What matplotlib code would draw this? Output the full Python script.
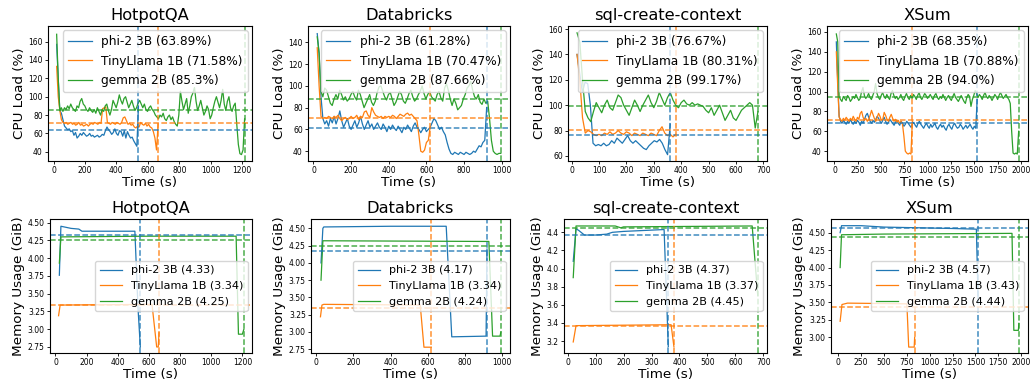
import numpy as np
import matplotlib
matplotlib.use('Agg')
import matplotlib.pyplot as plt

W, H = 1031, 381

models = ['phi-2 3B', 'TinyLlama 1B', 'gemma 2B']
colors = ['#1f77b4', '#ff7f0e', '#2ca02c']
datasets = ['HotpotQA', 'Databricks', 'sql-create-context', 'XSum']

# ---------------- CPU load (%), sampled evenly between start and end time ----------------
hotpot_cpu_span = [(20, 540), (20, 665), (20, 1215)]
hotpot_cpu_phi = [157, 120, 85, 82, 75, 68, 66, 64, 65, 62, 63, 58, 61, 55, 57, 60, 58, 61, 59, 57,
                  58, 60, 57, 58, 56, 57, 58, 56, 57, 59, 58, 63, 67, 64, 62, 59, 61, 65, 60, 58,
                  63, 62, 57, 63, 55, 62, 58, 55, 56, 52, 49, 46, 90]
hotpot_cpu_tiny = [133, 100, 85, 75, 72, 71, 72, 70, 71, 72, 70, 71, 69, 70, 72, 69, 70, 68, 69, 70,
                   68, 70, 71, 70, 72, 71, 70, 72, 71, 87, 88, 89, 72, 71, 70, 72, 71, 70, 72, 71,
                   70, 72, 77, 78, 74, 70, 71, 69, 70, 67, 66, 68, 67, 72, 70, 69, 71, 68, 70, 67,
                   66, 62, 55, 42, 70]
hotpot_cpu_gemma = [168, 120, 85, 88, 84, 88, 86, 90, 87, 92, 88, 86, 84, 90, 88, 95, 98, 92, 90, 86,
                    84, 88, 85, 83, 86, 82, 88, 84, 80, 86, 84, 90, 92, 85, 80, 86, 96, 92, 88, 94,
                    102, 96, 92, 98, 100, 94, 88, 92, 96, 90, 85, 88, 93, 96, 92, 88, 92, 86, 84, 88,
                    90, 86, 84, 80, 78, 76, 80, 78, 82, 76, 74, 78, 80, 75, 78, 73, 70, 68, 80, 106,
                    95, 86, 92, 98, 82, 90, 100, 104, 110, 95, 85, 90, 96, 88, 80, 84, 90, 86, 76, 80,
                    88, 95, 100, 94, 88, 96, 108, 92, 85, 95, 100, 88, 84, 90, 93, 70, 48, 38, 37, 42, 76]

databricks_cpu_span = [(20, 920), (20, 620), (20, 995)]
databricks_cpu_phi = [148, 130, 90, 70, 65, 68, 63, 70, 66, 72, 65, 70, 77, 68, 62, 66, 70, 63, 60, 64,
                      68, 62, 66, 72, 65, 60, 64, 68, 62, 65, 60, 63, 66, 62, 60, 65, 62, 58, 63, 60,
                      64, 61, 59, 63, 60, 57, 62, 60, 64, 61, 58, 63, 66, 62, 60, 57, 60, 62, 58, 60,
                      62, 66, 70, 68, 64, 60, 62, 58, 55, 48, 42, 38, 37, 39, 38, 37, 39, 38, 37, 39,
                      38, 37, 38, 40, 39, 42, 45, 44, 48, 50, 80]
databricks_cpu_tiny = [135, 100, 72, 70, 71, 70, 72, 71, 70, 72, 71, 73, 70, 68, 70, 71, 69, 70, 72, 70,
                       71, 73, 69, 72, 71, 76, 77, 73, 71, 80, 76, 73, 72, 71, 72, 70, 72, 71, 72, 71,
                       73, 72, 70, 72, 74, 73, 72, 74, 75, 73, 74, 72, 70, 68, 55, 40, 39, 41, 48, 50, 62]
databricks_cpu_gemma = [145, 130, 95, 90, 98, 96, 90, 84, 82, 88, 92, 88, 96, 92, 87, 90, 86, 88, 92, 95,
                        90, 87, 96, 92, 86, 80, 84, 88, 92, 85, 82, 86, 94, 99, 100, 95, 90, 87, 92, 94,
                        88, 82, 85, 90, 95, 92, 86, 84, 88, 93, 96, 90, 86, 88, 92, 95, 100, 93, 88, 92,
                        95, 90, 88, 86, 92, 95, 89, 86, 98, 102, 96, 88, 82, 88, 84, 78, 80, 82, 88, 92,
                        98, 100, 104, 96, 90, 88, 92, 85, 83, 88, 84, 86, 70, 50, 40, 38, 37, 38, 38]

sql_cpu_span = [(20, 360), (20, 380), (20, 680)]
sql_cpu_phi = [140, 125, 110, 118, 117, 100, 70, 68, 69, 68, 70, 68, 69, 72, 70, 74, 72, 70, 73, 76,
               72, 70, 72, 70, 68, 66, 65, 68, 70, 72, 71, 73, 70, 65, 61, 85]
sql_cpu_tiny = [140, 120, 90, 78, 80, 79, 77, 76, 77, 76, 78, 77, 79, 77, 78, 80, 78, 77, 79, 78,
                76, 78, 77, 76, 78, 77, 76, 78, 77, 76, 80, 83, 78, 76, 77, 75, 77]
sql_cpu_gemma = [157, 150, 120, 95, 90, 87, 95, 102, 98, 94, 100, 104, 98, 96, 102, 108, 106, 100, 96, 92,
                 98, 104, 100, 95, 100, 104, 108, 102, 98, 103, 110, 105, 100, 106, 110, 104, 100, 98, 102, 104,
                 101, 100, 102, 100, 101, 100, 99, 96, 94, 98, 92, 96, 100, 94, 88, 92, 96, 90, 88, 92,
                 96, 98, 100, 102, 100, 82, 95]

xsum_cpu_span = [(20, 1530), (20, 835), (20, 1975)]
xsum_cpu_phi = [150, 110, 75, 70, 68, 71, 69, 67, 70, 68, 72, 69, 67, 70, 68, 71, 69, 66, 70, 68,
                72, 76, 78, 74, 70, 68, 71, 69, 72, 75, 73, 70, 68, 71, 74, 70, 67, 69, 72, 70,
                68, 66, 69, 71, 68, 66, 70, 68, 65, 67, 70, 68, 66, 64, 67, 69, 66, 64, 68, 70,
                67, 65, 63, 66, 68, 65, 63, 67, 64, 66, 68, 64, 62, 65, 67, 64, 66, 63, 61, 65,
                67, 64, 62, 66, 68, 65, 63, 64, 67, 65, 62, 64, 66, 63, 65, 67, 64, 62, 65, 63, 92]
xsum_cpu_tiny = [140, 105, 74, 72, 70, 73, 71, 74, 72, 70, 73, 71, 75, 72, 70, 74, 72, 78, 80, 74,
                 71, 73, 70, 72, 76, 81, 77, 73, 70, 74, 78, 75, 71, 72, 79, 76, 72, 70, 74, 77,
                 73, 70, 72, 69, 71, 68, 70, 67, 55, 40, 38, 37, 38, 37, 70]
xsum_cpu_gemma = [158, 150, 95, 92, 90, 95, 93, 91, 96, 94, 90, 92, 95, 93, 97, 94, 91, 93, 100, 104,
                  96, 93, 95, 98, 94, 92, 96, 100, 108, 98, 94, 92, 96, 99, 95, 93, 97, 94, 92, 98,
                  101, 96, 93, 95, 92, 94, 97, 93, 91, 95, 98, 94, 92, 96, 93, 97, 95, 92, 96, 99,
                  94, 92, 95, 98, 96, 93, 95, 97, 94, 92, 96, 98, 94, 92, 95, 93, 97, 94, 91, 94,
                  96, 93, 91, 95, 98, 94, 92, 90, 93, 96, 93, 90, 88, 94, 97, 95, 85, 92, 96, 101,
                  98, 94, 97, 95, 92, 96, 99, 95, 93, 96, 94, 91, 94, 97, 95, 92, 96, 99, 96, 93,
                  95, 97, 94, 92, 88, 60, 38, 37, 38, 37, 60]

cpu_means = {
    'HotpotQA': [63.89, 71.58, 85.3],
    'Databricks': [61.28, 70.47, 87.66],
    'sql-create-context': [76.67, 80.31, 99.17],
    'XSum': [68.35, 70.88, 94.0],
}

# ---------------- Memory usage (GiB): (time, value) breakpoints ----------------
hotpot_mem_phi_t = [25, 35, 100, 150, 170, 510, 530, 545]
hotpot_mem_phi_v = [3.76, 4.45, 4.42, 4.41, 4.38, 4.38, 3.30, 2.75]
hotpot_mem_tiny_t = [20, 30, 620, 650, 660, 665]
hotpot_mem_tiny_v = [3.19, 3.34, 3.35, 2.75, 2.75, 2.95]
hotpot_mem_gemma_t = [25, 35, 600, 1160, 1175, 1200, 1210]
hotpot_mem_gemma_v = [3.93, 4.30, 4.31, 4.31, 2.93, 2.93, 3.00]

databricks_mem_phi_t = [25, 35, 40, 400, 700, 730, 915, 920]
databricks_mem_phi_v = [4.00, 4.50, 4.52, 4.53, 4.53, 2.93, 2.94, 4.20]
databricks_mem_tiny_t = [22, 30, 40, 560, 580, 615, 620]
databricks_mem_tiny_v = [3.22, 3.39, 3.40, 3.39, 2.78, 2.78, 2.78]
databricks_mem_gemma_t = [25, 35, 930, 950, 990, 995]
databricks_mem_gemma_v = [3.75, 4.32, 4.31, 2.94, 2.94, 3.00]

sql_mem_phi_t = [20, 30, 40, 60, 100, 140, 160, 200, 340, 345, 360]
sql_mem_phi_v = [4.08, 4.44, 4.42, 4.37, 4.37, 4.38, 4.40, 4.41, 4.43, 4.43, 3.14]
sql_mem_tiny_t = [20, 30, 370, 380]
sql_mem_tiny_v = [3.19, 3.37, 3.38, 3.14]
sql_mem_gemma_t = [20, 30, 170, 190, 200, 660, 680]
sql_mem_gemma_v = [3.90, 4.47, 4.47, 4.45, 4.46, 4.47, 3.70]

xsum_mem_phi_t = [20, 35, 250, 500, 1250, 1510, 1530]
xsum_mem_phi_v = [4.50, 4.60, 4.60, 4.58, 4.56, 4.55, 3.50]
xsum_mem_tiny_t = [20, 40, 100, 750, 770, 830, 835]
xsum_mem_tiny_v = [3.23, 3.47, 3.49, 3.48, 2.86, 2.86, 3.00]
xsum_mem_gemma_t = [20, 35, 500, 1900, 1920, 1970, 1975]
xsum_mem_gemma_v = [4.00, 4.47, 4.48, 4.49, 3.10, 3.10, 3.20]

mem_means = {
    'HotpotQA': [4.33, 3.34, 4.25],
    'Databricks': [4.17, 3.34, 4.24],
    'sql-create-context': [4.37, 3.37, 4.45],
    'XSum': [4.57, 3.43, 4.44],
}

cpu_series = {
    'HotpotQA': (hotpot_cpu_span, [hotpot_cpu_phi, hotpot_cpu_tiny, hotpot_cpu_gemma]),
    'Databricks': (databricks_cpu_span, [databricks_cpu_phi, databricks_cpu_tiny, databricks_cpu_gemma]),
    'sql-create-context': (sql_cpu_span, [sql_cpu_phi, sql_cpu_tiny, sql_cpu_gemma]),
    'XSum': (xsum_cpu_span, [xsum_cpu_phi, xsum_cpu_tiny, xsum_cpu_gemma]),
}
mem_series = {
    'HotpotQA': [(hotpot_mem_phi_t, hotpot_mem_phi_v), (hotpot_mem_tiny_t, hotpot_mem_tiny_v),
                 (hotpot_mem_gemma_t, hotpot_mem_gemma_v)],
    'Databricks': [(databricks_mem_phi_t, databricks_mem_phi_v), (databricks_mem_tiny_t, databricks_mem_tiny_v),
                   (databricks_mem_gemma_t, databricks_mem_gemma_v)],
    'sql-create-context': [(sql_mem_phi_t, sql_mem_phi_v), (sql_mem_tiny_t, sql_mem_tiny_v),
                           (sql_mem_gemma_t, sql_mem_gemma_v)],
    'XSum': [(xsum_mem_phi_t, xsum_mem_phi_v), (xsum_mem_tiny_t, xsum_mem_tiny_v),
             (xsum_mem_gemma_t, xsum_mem_gemma_v)],
}

# ---------------- layout (pixel boxes: left, right, top, bottom) ----------------
top_boxes = [(48, 252, 26, 161), (308, 510, 26, 161), (568, 767, 26, 161), (827, 1028, 26, 161)]
bot_boxes = [(50, 252, 219, 353), (311, 510, 219, 353), (564, 767, 219, 353), (831, 1028, 219, 353)]

xlims = [(-35, 1262), (-29, 1044), (-13, 713), (-80, 2075)]
xticks = [np.arange(0, 1201, 200), np.arange(0, 1001, 200), np.arange(0, 701, 100), np.arange(0, 2001, 250)]
cpu_ylims = [(30, 177), (31, 155), (56, 162.4), (30, 166)]
cpu_yticks = [np.arange(40, 161, 20), np.arange(40, 141, 20), np.arange(60, 161, 20), np.arange(40, 161, 20)]
mem_ylims = [(2.665, 4.552), (2.696, 4.635), (3.068, 4.547), (2.775, 4.696)]
mem_yticks = [np.arange(2.75, 4.51, 0.25), np.arange(2.75, 4.51, 0.25), np.arange(3.2, 4.41, 0.2),
              np.arange(3.0, 4.51, 0.25)]
mem_fmt = ['%.2f', '%.2f', '%.1f', '%.2f']

TICK_FS = 5.5
LABEL_FS = 9.7
TITLE_FS = 11.7
CPU_LEG_FS = 8.7
MEM_LEG_FS = 8

fig = plt.figure(figsize=(W / 100, H / 100), dpi=100)


def make_ax(box):
    l, r, t, b = box
    return fig.add_axes([l / W, 1 - b / H, (r - l) / W, (b - t) / H])


def style(ax, title, ylabel):
    ax.set_title(title, fontsize=TITLE_FS, pad=4)
    ax.set_xlabel('Time (s)', fontsize=LABEL_FS, labelpad=0.5)
    ax.set_ylabel(ylabel, fontsize=LABEL_FS, labelpad=2)
    ax.tick_params(labelsize=TICK_FS, length=2.5, width=0.6, pad=1.2)


for i, ds in enumerate(datasets):
    # CPU
    ax = make_ax(top_boxes[i])
    spans, vals = cpu_series[ds]
    for k in range(3):
        t = np.linspace(spans[k][0], spans[k][1], len(vals[k]))
        ax.plot(t, vals[k], color=colors[k], lw=0.9,
                label=f'{models[k]} ({cpu_means[ds][k]}%)')
    for k in range(3):
        ax.axhline(cpu_means[ds][k], color=colors[k], ls='--', lw=1.1, alpha=0.85)
        ax.axvline(spans[k][1], color=colors[k], ls='--', lw=1.1, alpha=0.85)
    ax.set_xlim(*xlims[i])
    ax.set_ylim(*cpu_ylims[i])
    ax.set_xticks(xticks[i])
    ax.set_yticks(cpu_yticks[i])
    style(ax, ds, 'CPU Load (%)')
    ax.legend(loc='upper right', fontsize=CPU_LEG_FS, borderaxespad=0.35, handlelength=2.0,
              labelspacing=0.55)

    # Memory
    ax = make_ax(bot_boxes[i])
    for k in range(3):
        t, v = mem_series[ds][k]
        ax.plot(t, v, color=colors[k], lw=0.9, label=f'{models[k]} ({mem_means[ds][k]})')
    for k in range(3):
        ax.axhline(mem_means[ds][k], color=colors[k], ls='--', lw=1.1, alpha=0.85)
        ax.axvline(mem_series[ds][k][0][-1], color=colors[k], ls='--', lw=1.1, alpha=0.85)
    ax.set_xlim(*xlims[i])
    ax.set_ylim(*mem_ylims[i])
    ax.set_xticks(xticks[i])
    ax.set_yticks(mem_yticks[i])
    ax.set_yticklabels([mem_fmt[i] % y for y in mem_yticks[i]])
    style(ax, ds, 'Memory Usage (GiB)')
    ax.legend(loc='center right', fontsize=MEM_LEG_FS, borderaxespad=0.4, handlelength=2.0)

fig.savefig('out.png', dpi=100)
